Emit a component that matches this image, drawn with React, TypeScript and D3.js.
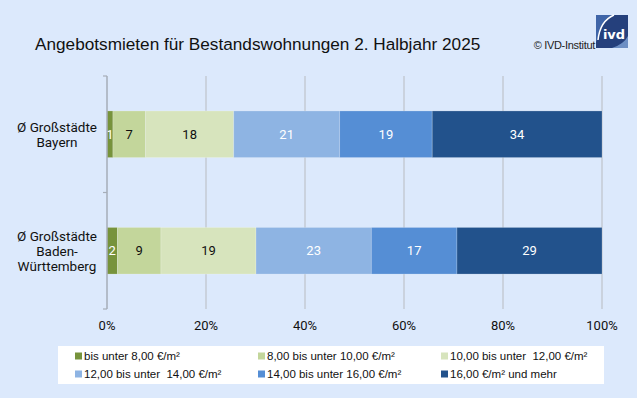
import * as d3 from 'd3'

const categories = ['Ø Großstädte\nBayern', 'Ø Großstädte\nBaden-\nWürttemberg']
const seriesNames = [
  'bis unter 8,00 €/m²',
  '8,00 bis unter 10,00 €/m²',
  '10,00 bis unter  12,00 €/m²',
  '12,00 bis unter  14,00 €/m²',
  '14,00 bis unter 16,00 €/m²',
  '16,00 €/m² und mehr',
]
const bayern = [1.2, 6.6, 17.8, 21.4, 18.7, 34.3]
const badenWuerttemberg = [2.1, 8.8, 19.2, 23.3, 17.3, 29.3]
const xTicks = [0, 20, 40, 60, 80, 100]

const colors = ['#77933c', '#c3d69b', '#d7e4bd', '#8eb4e3', '#558ed5', '#22528c']
const labelColors = ['#fff', '#111', '#111', '#fff', '#fff', '#fff']

const W = 637
const H = 398

export default function App() {
  const rows = [bayern, badenWuerttemberg].map((vals, i) => {
    const row: Record<string, any> = { cat: categories[i] }
    seriesNames.forEach((s, j) => (row[s] = vals[j]))
    return row
  })
  const stacked = d3.stack().keys(seriesNames)(rows as any)

  const x = d3.scaleLinear().domain([0, 100]).range([107, 602])
  const y = d3.scaleBand().domain(categories).range([76, 309]).paddingInner(0.6).paddingOuter(0.3)
  const step = y.step()
  const bounds = [76, ...categories.map((c) => (y(c) as number) - step * 0.3 + step)]

  const sansNum = 'Roboto, "Noto Sans", sans-serif'
  const arial = '"Liberation Sans", Arial, sans-serif'

  return (
    <svg width={W} height={H} style={{ position: 'absolute', left: 0, top: 0 }}>
      <rect x={0} y={0} width={W} height={H} fill="#dce9fc" />
      <text x={35} y={50} fontFamily={arial} fontSize={17.2} fill="#111">
        Angebotsmieten für Bestandswohnungen 2. Halbjahr 2025
      </text>
      <text x={595} y={49} textAnchor="end" fontFamily={arial} fontSize={11} fill="#222" letterSpacing={-0.3}>
        © IVD-Institut
      </text>
      {/* logo */}
      <g>
        <rect x={596} y={15} width={32} height={33} fill="#25407c" />
        <path d="M596,15 L612,15 Q600,21 598,38 L596,42 Z" fill="#3f65a8" />
        <path d="M598,40 Q600,21 614,15" fill="none" stroke="#fff" strokeWidth={1.5} />
        <path d="M628,36 L628,48 L612,48 Q624,44 628,36 Z" fill="#6d8fc4" />
        <text x={614} y={39} textAnchor="middle" fontFamily='"DejaVu Sans", sans-serif' fontWeight="bold" fontSize={13} fill="#fff">
          ivd
        </text>
      </g>

      {/* gridlines */}
      {xTicks.slice(1).map((t) => (
        <line key={t} x1={x(t)} x2={x(t)} y1={76} y2={309} stroke="#c4cad4" strokeWidth={1.5} />
      ))}

      {/* bars */}
      {stacked.map((layer, si) =>
        layer.map((d, ci) => {
          const cat = categories[ci]
          const x0 = x(d[0])
          const x1 = x(d[1])
          const v = (ci === 0 ? bayern : badenWuerttemberg)[si]
          return (
            <g key={si + '-' + ci}>
              <rect
                x={x0}
                y={y(cat)}
                width={x1 - x0}
                height={y.bandwidth()}
                fill={colors[si]}
                stroke="rgba(255,255,255,0.25)"
                strokeWidth={0.8}
              />
              <text
                x={(x0 + x1) / 2}
                y={(y(cat) as number) + y.bandwidth() / 2}
                dy="0.36em"
                textAnchor="middle"
                fontFamily={sansNum}
                fontSize={13}
                fill={labelColors[si]}
              >
                {Math.round(v)}
              </text>
            </g>
          )
        })
      )}

      {/* category axis */}
      <line x1={107} x2={107} y1={76} y2={309} stroke="#a6adb8" strokeWidth={1.5} />
      {bounds.map((b, i) => (
        <line key={i} x1={103} x2={107} y1={b} y2={b} stroke="#a6adb8" strokeWidth={1.2} />
      ))}
      {categories.map((c) => {
        const lines = c.split('\n')
        const cy = (y(c) as number) + y.bandwidth() / 2
        const lh = 15
        return (
          <text key={c} textAnchor="middle" fontFamily={sansNum} fontSize={13.5} fill="#111">
            {lines.map((l, i) => (
              <tspan key={i} x={57} y={cy + (i - (lines.length - 1) / 2) * lh} dy="0.36em">
                {l}
              </tspan>
            ))}
          </text>
        )
      })}

      {/* value axis labels */}
      {xTicks.map((t) => (
        <text key={t} x={x(t)} y={330} textAnchor="middle" fontFamily={sansNum} fontSize={13} fill="#111">
          {t}%
        </text>
      ))}

      {/* legend */}
      <rect x={58} y={346} width={546} height={38} fill="#fff" />
      {seriesNames.map((s, i) => {
        const col = i % 3
        const row = Math.floor(i / 3)
        const lx = [75, 258, 441][col]
        const ly = [356, 374][row]
        return (
          <g key={s}>
            <rect x={lx} y={ly - 3.5} width={7} height={7} fill={colors[i]} />
            <text
              x={lx + 9}
              y={ly}
              dy="0.35em"
              fontFamily={arial}
              fontSize={11.5}
              fill="#111"
              style={{ whiteSpace: 'pre' }}
            >
              {s}
            </text>
          </g>
        )
      })}
    </svg>
  )
}
